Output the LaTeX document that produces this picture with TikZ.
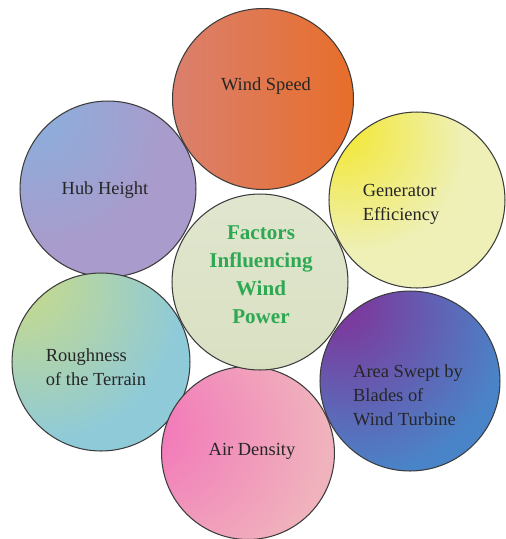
\documentclass[tikz,border=0pt]{standalone}
\usepackage{fontspec}
\setmainfont{Liberation Serif}
\usepackage{xcolor}
\usepackage{tikz}
\usetikzlibrary{shadings}
\definecolor{rimgray}{HTML}{3C3C3C}
\definecolor{titlegreen}{HTML}{2EA852}
\definecolor{speedleft}{HTML}{DA806E}
\definecolor{speedmid}{HTML}{E37A50}
\definecolor{speedright}{HTML}{E86E2A}
\definecolor{genyellow}{HTML}{F3E83A}
\definecolor{genpale}{HTML}{EEF0B6}
\definecolor{hubblue}{HTML}{8CAEDC}
\definecolor{hubpurple}{HTML}{A99BCB}
\definecolor{roughgreen}{HTML}{C6DA8C}
\definecolor{roughblue}{HTML}{8FCAD8}
\definecolor{areapurple}{HTML}{7A3C9E}
\definecolor{areablue}{HTML}{4A84C8}
\definecolor{airpink}{HTML}{F27CBA}
\definecolor{airrose}{HTML}{F0B2BC}
\definecolor{coresage}{HTML}{D9E0C2}
% glows that sit off-centre, towards the upper left
\pgfdeclareradialshading{genglow}{\pgfpoint{-24bp}{22bp}}{color(0bp)=(genyellow); color(4bp)=(genyellow); color(30bp)=(genpale); color(100bp)=(genpale!85!white)}
\pgfdeclareradialshading{hubglow}{\pgfpoint{-26bp}{26bp}}{color(0bp)=(hubblue); color(6bp)=(hubblue); color(34bp)=(hubpurple); color(100bp)=(hubpurple)}
\pgfdeclareradialshading{roughglow}{\pgfpoint{-26bp}{26bp}}{color(0bp)=(roughgreen); color(5bp)=(roughgreen); color(38bp)=(roughblue); color(100bp)=(roughblue)}
\pgfdeclareradialshading{areaglow}{\pgfpoint{-22bp}{24bp}}{color(0bp)=(areapurple); color(7bp)=(areapurple); color(40bp)=(areablue); color(100bp)=(areablue)}
\pgfdeclareradialshading{airglow}{\pgfpoint{-34bp}{8bp}}{color(0bp)=(airpink); color(8bp)=(airpink); color(42bp)=(airrose); color(100bp)=(airrose)}
\tikzset{
  factor/.style={circle, draw=rimgray, line width=0.6pt, inner sep=0pt},
  factortext/.style={align=left, font=\fontsize{10.5}{13.6}\selectfont, text=black!85},
  coretext/.style={align=center, font=\fontsize{12}{16}\selectfont\bfseries, text=titlegreen}
}

\begin{document}
\begin{tikzpicture}[x=0.02cm, y=-0.02cm]
  \useasboundingbox (0,0) rectangle (506,539);
  % outer ring of factors
  \node[factor, minimum size=3.62cm, left color=speedleft, middle color=speedmid, right color=speedright] (speed) at (263,99) {};
  \node[factor, minimum size=3.52cm, shading=genglow] (gen) at (417,200) {};
  \node[factor, minimum size=3.52cm, shading=hubglow] (hub) at (108,189) {};
  \node[factor, minimum size=3.56cm, shading=roughglow] (rough) at (101,362) {};
  \node[factor, minimum size=3.6cm, shading=areaglow] (area) at (410,381) {};
  \node[factor, minimum size=3.46cm, shading=airglow] (air) at (248,453) {};
  % hub in the middle
  \node[factor, minimum size=3.52cm, top color=coresage!80!white, bottom color=coresage] (core) at (260,282) {};

  \node[factortext] (speed-txt) at (266,86) {Wind Speed};
  \node[factortext] (gen-txt) at (401,204) {Generator\\Efficiency};
  \node[factortext] (hub-txt) at (105,190) {Hub Height};
  \node[factortext] (rough-txt) at (96,367) {Roughness\\of the Terrain};
  \node[factortext] (area-txt) at (408,395) {Area Swept by\\Blades of\\Wind Turbine};
  \node[factortext] (air-txt) at (252,451) {Air Density};
  \node[coretext] (core-txt) at (261,275) {Factors\\Influencing\\Wind\\Power};
\end{tikzpicture}
\end{document}
